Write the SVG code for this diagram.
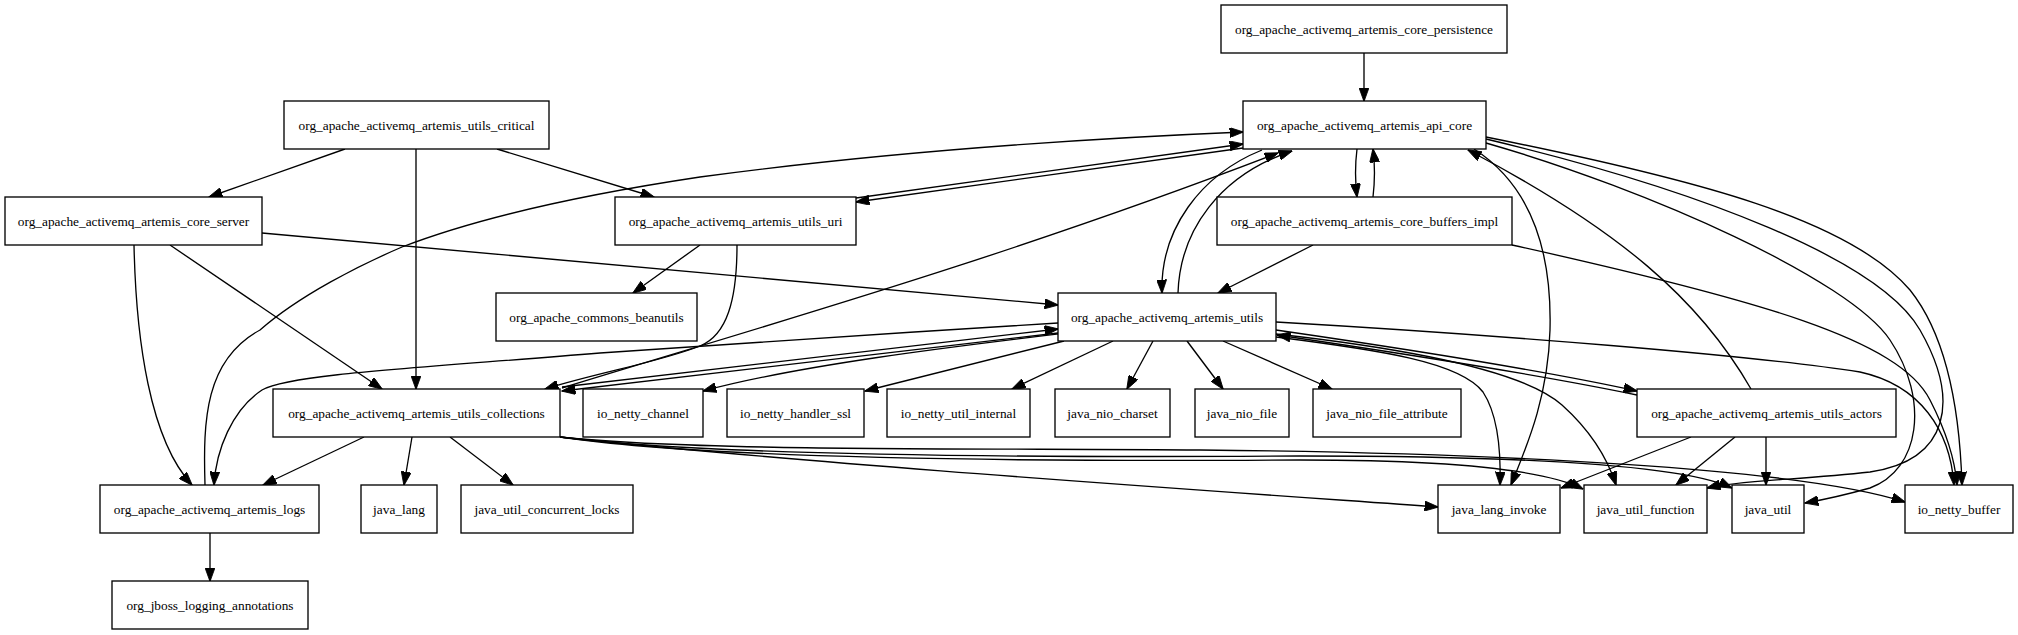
<svg xmlns="http://www.w3.org/2000/svg" width="2018" height="635" viewBox="0 0 2018 635">
<style>
.node rect{fill:#fff;stroke:#000;stroke-width:1.33}
.node text{font-family:"Liberation Serif","Times New Roman",serif;font-size:13.33px;text-anchor:middle;fill:#000}
.edge{fill:none;stroke:#000;stroke-width:1.33;marker-end:url(#arr)}
</style>
<defs>
<marker id="arr" markerUnits="userSpaceOnUse" markerWidth="14" markerHeight="10" viewBox="0 0 13 9.4" refX="12.5" refY="4.7" orient="auto">
<path d="M0,0 L13,4.7 L0,9.4 Z" fill="#000" stroke="#000" stroke-width="0.8"/>
</marker>
</defs>
<rect width="2018" height="635" fill="#fff"/>
<g id="connectors">
<path class="edge" d="M1364,53 L1364,101"/>
<path class="edge" d="M345,149 L209,197"/>
<path class="edge" d="M416,149 L416,389"/>
<path class="edge" d="M497,149 L654,197"/>
<path class="edge" d="M856,198 L1243,144"/>
<path class="edge" d="M1243,148 L856,202"/>
<path class="edge" d="M205,485 C203,420 205,360 260,330 C300,295 360,265 402,247 C480,217 580,195 700,177 C900,150 1100,138 1243,132"/>
<path class="edge" d="M262,233 L1058,305"/>
<path class="edge" d="M170,245 L382,389"/>
<path class="edge" d="M134,245 C136,340 150,440 192,485"/>
<path class="edge" d="M700,245 L633,293"/>
<path class="edge" d="M737,245 C737,300 727,335 700,346 C660,362 600,372 545,389"/>
<path class="edge" d="M562,388 C750,330 1000,260 1278,153"/>
<path class="edge" d="M1058,333 L562,391"/>
<path class="edge" d="M562,387 L1058,329"/>
<path class="edge" d="M1262,150 C1200,175 1160,230 1162,293"/>
<path class="edge" d="M1178,293 C1180,230 1220,175 1292,151"/>
<path class="edge" d="M1357,149 C1355,165 1355,180 1357,197"/>
<path class="edge" d="M1373,197 C1375,180 1375,165 1373,149"/>
<path class="edge" d="M1313,245 L1218,293"/>
<path class="edge" d="M1512,245 C1760,300 1900,340 1930,400 C1948,435 1955,460 1957,485"/>
<path class="edge" d="M1486,137 C1700,180 1850,220 1910,290 C1950,340 1960,420 1962,485"/>
<path class="edge" d="M1486,139 C1700,190 1880,260 1920,330 C1960,400 1950,460 1870,472 C1800,480 1740,480 1707,488"/>
<path class="edge" d="M1486,143 C1650,190 1850,280 1890,340 C1930,400 1920,470 1870,488 C1845,495 1822,500 1805,503"/>
<path class="edge" d="M1751,389 C1700,300 1620,230 1468,150"/>
<path class="edge" d="M1474,149 C1530,185 1552,250 1550,330 C1548,400 1525,450 1511,485"/>
<path class="edge" d="M1276,322 C1500,335 1750,355 1860,372 C1920,385 1950,430 1954,485"/>
<path class="edge" d="M1276,330 C1400,348 1550,372 1637,391"/>
<path class="edge" d="M1637,395 C1550,377 1400,353 1277,335"/>
<path class="edge" d="M1276,337 C1380,350 1460,362 1483,392 C1498,415 1501,450 1500,485"/>
<path class="edge" d="M1276,334 C1420,350 1525,372 1562,405 C1592,432 1608,460 1616,485"/>
<path class="edge" d="M1691,437 L1561,488"/>
<path class="edge" d="M1735,437 L1676,485"/>
<path class="edge" d="M1766,437 L1766,485"/>
<path class="edge" d="M560,437 C800,463 1200,490 1438,507"/>
<path class="edge" d="M560,437 C700,452 1000,448 1200,450 C1500,453 1800,468 1905,502"/>
<path class="edge" d="M560,437 C700,458 1000,462 1300,460 C1450,460 1545,470 1583,489"/>
<path class="edge" d="M560,437 C700,455 1000,458 1300,456 C1550,456 1690,468 1732,488"/>
<path class="edge" d="M1058,334 C950,347 800,365 703,391"/>
<path class="edge" d="M1064,341 L865,391"/>
<path class="edge" d="M1113,341 L1012,389"/>
<path class="edge" d="M1153,341 L1127,389"/>
<path class="edge" d="M1187,341 L1223,389"/>
<path class="edge" d="M1223,341 L1332,389"/>
<path class="edge" d="M1058,323 C900,333 700,345 600,353 C420,368 290,374 262,390 C232,410 216,450 214,485"/>
<path class="edge" d="M364,437 L263,485"/>
<path class="edge" d="M412,437 L404,485"/>
<path class="edge" d="M450,437 L513,485"/>
<path class="edge" d="M210,533 L210,581"/>
</g>
<g id="core_persistence" class="node"><rect x="1221" y="5" width="286" height="48"/><text x="1364" y="33.5">org_apache_activemq_artemis_core_persistence</text></g>
<g id="api_core" class="node"><rect x="1243" y="101" width="243" height="48"/><text x="1364.5" y="129.5">org_apache_activemq_artemis_api_core</text></g>
<g id="utils_critical" class="node"><rect x="284" y="101" width="265" height="48"/><text x="416.5" y="129.5">org_apache_activemq_artemis_utils_critical</text></g>
<g id="core_server" class="node"><rect x="5" y="197" width="257" height="48"/><text x="133.5" y="225.5">org_apache_activemq_artemis_core_server</text></g>
<g id="utils_uri" class="node"><rect x="615" y="197" width="241" height="48"/><text x="735.5" y="225.5">org_apache_activemq_artemis_utils_uri</text></g>
<g id="core_buffers_impl" class="node"><rect x="1217" y="197" width="295" height="48"/><text x="1364.5" y="225.5">org_apache_activemq_artemis_core_buffers_impl</text></g>
<g id="commons_beanutils" class="node"><rect x="496" y="293" width="201" height="48"/><text x="596.5" y="321.5">org_apache_commons_beanutils</text></g>
<g id="utils" class="node"><rect x="1058" y="293" width="218" height="48"/><text x="1167" y="321.5">org_apache_activemq_artemis_utils</text></g>
<g id="utils_collections" class="node"><rect x="273" y="389" width="287" height="48"/><text x="416.5" y="417.5">org_apache_activemq_artemis_utils_collections</text></g>
<g id="io_netty_channel" class="node"><rect x="583" y="389" width="120" height="48"/><text x="643" y="417.5">io_netty_channel</text></g>
<g id="io_netty_handler_ssl" class="node"><rect x="727" y="389" width="137" height="48"/><text x="795.5" y="417.5">io_netty_handler_ssl</text></g>
<g id="io_netty_util_internal" class="node"><rect x="887" y="389" width="143" height="48"/><text x="958.5" y="417.5">io_netty_util_internal</text></g>
<g id="java_nio_charset" class="node"><rect x="1055" y="389" width="115" height="48"/><text x="1112.5" y="417.5">java_nio_charset</text></g>
<g id="java_nio_file" class="node"><rect x="1195" y="389" width="94" height="48"/><text x="1242" y="417.5">java_nio_file</text></g>
<g id="java_nio_file_attribute" class="node"><rect x="1313" y="389" width="148" height="48"/><text x="1387" y="417.5">java_nio_file_attribute</text></g>
<g id="utils_actors" class="node"><rect x="1637" y="389" width="259" height="48"/><text x="1766.5" y="417.5">org_apache_activemq_artemis_utils_actors</text></g>
<g id="logs" class="node"><rect x="100" y="485" width="219" height="48"/><text x="209.5" y="513.5">org_apache_activemq_artemis_logs</text></g>
<g id="java_lang" class="node"><rect x="361" y="485" width="76" height="48"/><text x="399" y="513.5">java_lang</text></g>
<g id="java_util_concurrent_locks" class="node"><rect x="461" y="485" width="172" height="48"/><text x="547" y="513.5">java_util_concurrent_locks</text></g>
<g id="java_lang_invoke" class="node"><rect x="1438" y="485" width="122" height="48"/><text x="1499" y="513.5">java_lang_invoke</text></g>
<g id="java_util_function" class="node"><rect x="1584" y="485" width="123" height="48"/><text x="1645.5" y="513.5">java_util_function</text></g>
<g id="java_util" class="node"><rect x="1732" y="485" width="72" height="48"/><text x="1768" y="513.5">java_util</text></g>
<g id="io_netty_buffer" class="node"><rect x="1905" y="485" width="108" height="48"/><text x="1959" y="513.5">io_netty_buffer</text></g>
<g id="jboss_logging_annotations" class="node"><rect x="112" y="581" width="196" height="48"/><text x="210" y="609.5">org_jboss_logging_annotations</text></g>
</svg>
